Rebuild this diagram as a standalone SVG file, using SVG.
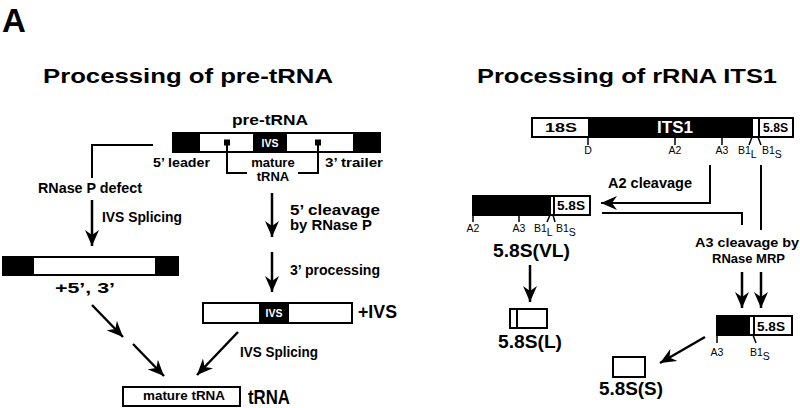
<svg xmlns="http://www.w3.org/2000/svg" width="800" height="408" viewBox="0 0 800 408">
<style>
text{font-family:"Liberation Sans",Arial,Helvetica,sans-serif;fill:#000}
.b{font-weight:bold}
.w{fill:#fff}
.box{fill:#fff;stroke:#000;stroke-width:2}
.blk{fill:#000}
.ln{fill:none;stroke:#000;stroke-width:2}
.ar{fill:none;stroke:#000;stroke-width:2.5}
.tk{fill:none;stroke:#000;stroke-width:1.5}
.t10{font-size:10.5px}
.t12{font-size:12px}
.t13{font-size:13px}
.t14{font-size:14px}
.t18{font-size:18px}
</style>
<defs>
<marker id="ah" viewBox="-16 -8 17 16" markerWidth="17" markerHeight="16" refX="0" refY="0" orient="auto" markerUnits="userSpaceOnUse">
<path d="M0,0 L-16,-7 L-11,0 L-16,7 Z" fill="#000"/>
</marker>
</defs>

<text x="2" y="32" class="b" font-size="33">A</text>
<text x="43" y="83" class="b" font-size="21" textLength="290" lengthAdjust="spacingAndGlyphs">Processing of pre-tRNA</text>
<text x="477" y="83" class="b" font-size="21" textLength="300" lengthAdjust="spacingAndGlyphs">Processing of rRNA ITS1</text>

<g id="pre-tRNA">
<text x="232" y="125" class="b" font-size="15" textLength="76" lengthAdjust="spacingAndGlyphs">pre-tRNA</text>
<rect x="173" y="133" width="207" height="19" class="box"/>
<rect x="173" y="133" width="27" height="19" class="blk"/>
<rect x="253" y="133" width="34" height="19" class="blk"/>
<rect x="353" y="133" width="27" height="19" class="blk"/>
<text x="270" y="147" class="w b t10" text-anchor="middle">IVS</text>
<rect x="224" y="139.5" width="6" height="6" class="blk"/>
<rect x="315" y="139.5" width="6" height="6" class="blk"/>
<path d="M227,142 V173 H247 M298,173 H318 V142" class="ln"/>
<text x="153" y="167" class="b t13" textLength="57" lengthAdjust="spacingAndGlyphs">5’ leader</text>
<text x="273" y="167" class="b t13" text-anchor="middle">mature</text>
<text x="273" y="181" class="b t13" text-anchor="middle">tRNA</text>
<text x="325" y="167" class="b t13" textLength="58" lengthAdjust="spacingAndGlyphs">3’ trailer</text>
</g>

<g id="ends-retained">
<rect x="3" y="257" width="175" height="18" class="box"/>
<rect x="3" y="257" width="31" height="18" class="blk"/>
<rect x="155" y="257" width="23" height="18" class="blk"/>
<text x="55" y="293" class="b t14" textLength="60" lengthAdjust="spacingAndGlyphs">+5’,  3’</text>
</g>

<g id="plus-IVS">
<rect x="203" y="303" width="149" height="20" class="box"/>
<rect x="259" y="303" width="30" height="20" class="blk"/>
<text x="274" y="317" class="w b t10" text-anchor="middle">IVS</text>
<text x="358" y="318" class="b t18" textLength="39" lengthAdjust="spacingAndGlyphs">+IVS</text>
</g>

<g id="tRNA">
<rect x="123" y="387" width="117" height="19" class="box"/>
<text x="143" y="400" class="b t12" textLength="82" lengthAdjust="spacingAndGlyphs">mature tRNA</text>
<text x="248" y="404" class="b" font-size="20" textLength="42" lengthAdjust="spacingAndGlyphs">tRNA</text>
</g>

<g id="ITS1-precursor">
<rect x="532" y="118" width="261" height="19" class="box"/>
<rect x="588" y="118" width="165" height="19" class="blk"/>
<line x1="759" y1="118" x2="759" y2="137" class="ln"/>
<text x="545" y="132" class="b t12" textLength="32" lengthAdjust="spacingAndGlyphs">18S</text>
<text x="675" y="133" class="w b" font-size="17" text-anchor="middle">ITS1</text>
<text x="763" y="132" class="b t12" textLength="25" lengthAdjust="spacingAndGlyphs">5.8S</text>
<path d="M588,137 V145 M675,137 V145 M722,137 V145 M752,137 L749,145 M758,137 L761,145" class="tk"/>
<text x="588" y="154" class="t10" text-anchor="middle">D</text>
<text x="675" y="154" class="t10" text-anchor="middle">A2</text>
<text x="722" y="154" class="t10" text-anchor="middle">A3</text>
<text x="738" y="154" class="t10">B1<tspan dy="4">L</tspan></text>
<text x="762" y="154" class="t10">B1<tspan dy="4">S</tspan></text>
</g>

<g id="VL">
<rect x="473" y="196" width="117" height="19" class="box"/>
<rect x="473" y="196" width="78" height="19" class="blk"/>
<line x1="554" y1="196" x2="554" y2="215" class="ln"/>
<text x="557" y="210" class="b t12" textLength="28" lengthAdjust="spacingAndGlyphs">5.8S</text>
<path d="M473,215 V222 M519,215 V222 M550,215 L547,222 M553,215 L555,222" class="tk"/>
<text x="473" y="232" class="t10" text-anchor="middle">A2</text>
<text x="519" y="232" class="t10" text-anchor="middle">A3</text>
<text x="534" y="232" class="t10">B1<tspan dy="4">L</tspan></text>
<text x="556" y="232" class="t10">B1<tspan dy="4">S</tspan></text>
<text x="493" y="257" class="b t18" textLength="77" lengthAdjust="spacingAndGlyphs">5.8S(VL)</text>
</g>

<g id="L">
<rect x="510" y="309" width="37" height="19" class="box"/>
<line x1="517" y1="309" x2="517" y2="328" class="ln"/>
<text x="498" y="348" class="b t18" textLength="64" lengthAdjust="spacingAndGlyphs">5.8S(L)</text>
</g>

<g id="S-precursor">
<rect x="717" y="316" width="75" height="19" class="box"/>
<rect x="717" y="316" width="33" height="19" class="blk"/>
<line x1="754" y1="316" x2="754" y2="335" class="ln"/>
<text x="757" y="331" class="b t12" textLength="28" lengthAdjust="spacingAndGlyphs">5.8S</text>
<path d="M717,335 V343 M753,335 L756,343" class="tk"/>
<text x="717" y="356" class="t10" text-anchor="middle">A3</text>
<text x="750" y="356" class="t10">B1<tspan dy="4">S</tspan></text>
</g>

<g id="S">
<rect x="613" y="357" width="32" height="20" class="box"/>
<text x="599" y="395" class="b t18" textLength="64" lengthAdjust="spacingAndGlyphs">5.8S(S)</text>
</g>

<g id="connectors">
<path d="M153,145 H92 V178" class="ln"/>
<path d="M92,200 V246" class="ar" marker-end="url(#ah)"/>
<path d="M272,193 V237" class="ar" marker-end="url(#ah)"/>
<path d="M272,252 V292" class="ar" marker-end="url(#ah)"/>
<path d="M92,305 L123,337" class="ar" marker-end="url(#ah)"/>
<path d="M133,344 L164,376" class="ar" marker-end="url(#ah)"/>
<path d="M238,332 L197,375" class="ar" marker-end="url(#ah)"/>
<path d="M710,165 V203 H601" class="ln" marker-end="url(#ah)"/>
<path d="M602,213 H742 V225" class="ln"/>
<path d="M761,165 V230" class="ln"/>
<path d="M742,272 V308" class="ar" marker-end="url(#ah)"/>
<path d="M761,272 V308" class="ar" marker-end="url(#ah)"/>
<path d="M530,265 V302" class="ar" marker-end="url(#ah)"/>
<path d="M705,337 L660,363" class="ar" marker-end="url(#ah)"/>
</g>

<g id="labels">
<text x="38" y="193" class="b t14" textLength="104" lengthAdjust="spacingAndGlyphs">RNase P defect</text>
<text x="102" y="222" class="b t14" textLength="80" lengthAdjust="spacingAndGlyphs">IVS Splicing</text>
<text x="290" y="215" class="b t14" textLength="90" lengthAdjust="spacingAndGlyphs">5’ cleavage</text>
<text x="290" y="230" class="b t14" textLength="82" lengthAdjust="spacingAndGlyphs">by RNase P</text>
<text x="290" y="275" class="b t14" textLength="90" lengthAdjust="spacingAndGlyphs">3’ processing</text>
<text x="240" y="357" class="b t14" textLength="78" lengthAdjust="spacingAndGlyphs">IVS Splicing</text>
<text x="608" y="188" class="b t14" textLength="84" lengthAdjust="spacingAndGlyphs">A2 cleavage</text>
<text x="695" y="247" class="b t13" textLength="104" lengthAdjust="spacingAndGlyphs">A3 cleavage by</text>
<text x="712" y="263" class="b t13" textLength="73" lengthAdjust="spacingAndGlyphs">RNase MRP</text>
</g>
</svg>
